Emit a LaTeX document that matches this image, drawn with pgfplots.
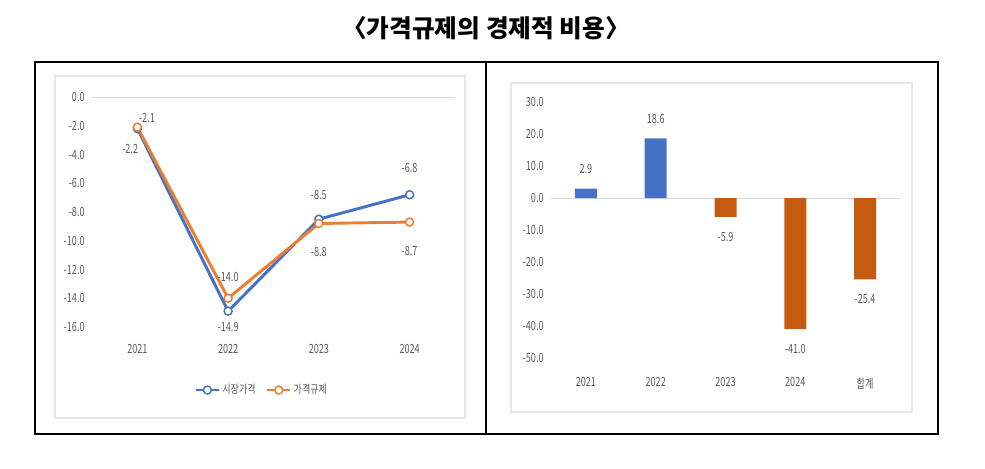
\documentclass[border=0pt]{standalone}
\usepackage{fontspec}
\setmainfont{Noto Sans CJK KR}
\usepackage{pgfplots}
\pgfplotsset{compat=1.18}

\definecolor{cblue}{HTML}{4472C4}
\definecolor{corange}{HTML}{ED7D31}
\definecolor{cbar}{HTML}{C55A11}
\definecolor{ctxt}{HTML}{595959}
\definecolor{cgrid}{HTML}{D9D9D9}
\definecolor{cframe}{HTML}{E6E6E6}

\pgfplotsset{
  excel/.style={
    scale only axis,
    axis line style={draw=none},
    major tick length=0pt,
    tick label style={font=\fontsize{9.5}{11}\selectfont, text=ctxt, xscale=0.72},
    yticklabel style={inner sep=0pt, xshift=-7.5pt},
    clip=false,
    /pgf/number format/.cd, fixed, fixed zerofill, precision=1, assume math mode=true,
  },
}
\tikzset{lbl/.style={font=\fontsize{9.5}{11}\selectfont, text=ctxt, xscale=0.72, inner sep=0pt}}

\begin{document}
\begin{tikzpicture}
% page and frames, in pixels of the reference
\begin{scope}[x=0.75pt, y=-0.75pt]
  \path[use as bounding box] (0,0) rectangle (985,468);
  \draw[cframe, line width=0.8pt] (55,76) rectangle (465,418);
  \draw[cframe, line width=0.8pt] (511,83) rectangle (912,412);
  \draw[black, line width=1pt] (35,62) rectangle (938,434);
  \draw[black, line width=1pt] (486,62) -- (486,434);
  \node[font=\fontsize{18.5}{21}\selectfont\bfseries] at (486,28) {〈가격규제의 경제적 비용〉};
\end{scope}

% left: line chart
\begin{axis}[excel,
  at={(69pt,-245.25pt)}, anchor=south west,
  width=272.25pt, height=172.5pt,
  xmin=-0.5, xmax=3.5, ymin=-16, ymax=0,
  ytick={-16,-14,...,0},
  xtick={0,1,2,3}, xticklabels={2021,2022,2023,2024},
  xticklabel style={inner sep=0pt, yshift=-13pt},
  legend style={at={(0.468,-0.274)}, anchor=center, draw=none,
    font=\fontsize{8.5}{10}\selectfont, text=ctxt,
    nodes={xscale=0.8},
    /tikz/every even column/.append style={column sep=6pt}},
  legend columns=2,
]
\draw[cgrid, line width=0.6pt] (axis cs:-0.5,0) -- (axis cs:3.5,0);
\addplot[cblue, line width=2.2pt, mark=*, mark size=3pt,
  mark options={fill=white, line width=1.1pt}]
  coordinates {(0,-2.2) (1,-14.9) (2,-8.5) (3,-6.8)};
\addlegendentry{시장가격}
\addplot[corange, line width=2.2pt, mark=*, mark size=3pt,
  mark options={fill=white, line width=1.1pt}]
  coordinates {(0,-2.1) (1,-14.0) (2,-8.8) (3,-8.7)};
\addlegendentry{가격규제}
% value labels
\node[lbl] at (axis cs:0,-2.2) [xshift=-7.5pt, yshift=-15pt] {-2.2};
\node[lbl] at (axis cs:1,-14.9) [yshift=-12pt] {-14.9};
\node[lbl] at (axis cs:2,-8.5) [yshift=18pt] {-8.5};
\node[lbl] at (axis cs:3,-6.8) [yshift=20pt] {-6.8};
\node[lbl] at (axis cs:0,-2.1) [xshift=10pt, yshift=7pt] {-2.1};
\node[lbl] at (axis cs:1,-14.0) [yshift=16pt] {-14.0};
\node[lbl] at (axis cs:2,-8.8) [yshift=-21pt] {-8.8};
\node[lbl] at (axis cs:3,-8.7) [yshift=-22pt] {-8.7};
\end{axis}

% right: bar chart
\begin{axis}[excel,
  at={(413.25pt,-268.5pt)}, anchor=south west,
  width=261.75pt, height=192pt,
  xmin=-0.5, xmax=4.5, ymin=-50, ymax=30,
  ytick={-50,-40,...,30},
  xtick={0,1,2,3,4}, xticklabels={2021,2022,2023,2024,합계},
  xticklabel style={inner sep=0pt, yshift=-14.5pt},
  ybar, bar width=16.5pt,
  nodes near coords,
  nodes near coords style={font=\fontsize{9.5}{11}\selectfont, text=ctxt, xscale=0.72,
    inner xsep=0pt, inner ysep=11pt,
    /pgf/number format/.cd, fixed, fixed zerofill, precision=1, assume math mode=true},
]
\draw[cgrid, line width=0.6pt] (axis cs:-0.5,0) -- (axis cs:4.5,0);
\addplot[fill=cblue, draw=none, bar shift=0pt]
  coordinates {(0,2.9) (1,18.6)};
\addplot[fill=cbar, draw=none, bar shift=0pt]
  coordinates {(2,-5.9) (3,-41.0) (4,-25.4)};
\end{axis}
\end{tikzpicture}
\end{document}
